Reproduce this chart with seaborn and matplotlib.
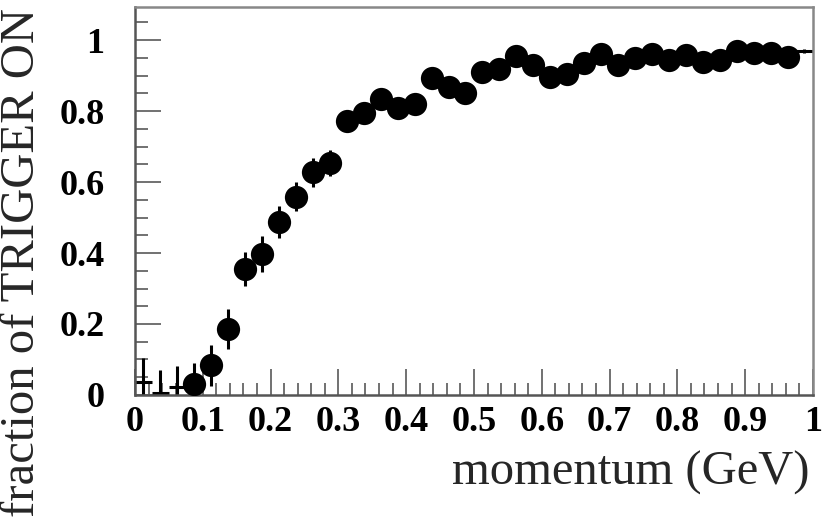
import numpy as np
import pandas as pd
import matplotlib
matplotlib.use("Agg")
import matplotlib.pyplot as plt
from matplotlib.ticker import MultipleLocator, FixedLocator
import seaborn as sns

# momentum bin centres (GeV), bin width 0.025
momentum = [0.0125, 0.0375, 0.0625, 0.0875, 0.1125, 0.1375, 0.1625, 0.1875,
            0.2125, 0.2375, 0.2625, 0.2875, 0.3125, 0.3375, 0.3625, 0.3875,
            0.4125, 0.4375, 0.4625, 0.4875, 0.5125, 0.5375, 0.5625, 0.5875,
            0.6125, 0.6375, 0.6625, 0.6875, 0.7125, 0.7375, 0.7625, 0.7875,
            0.8125, 0.8375, 0.8625, 0.8875, 0.9125, 0.9375, 0.9625, 0.9875]
half_width = 0.0125

# fraction of events with the trigger on, per bin
fraction = [0.037, 0.005, 0.022, 0.031, 0.084, 0.185, 0.355, 0.397,
            0.488, 0.559, 0.627, 0.654, 0.772, 0.795, 0.833, 0.809,
            0.819, 0.892, 0.869, 0.852, 0.911, 0.917, 0.955, 0.931,
            0.897, 0.903, 0.936, 0.961, 0.930, 0.948, 0.960, 0.945,
            0.958, 0.939, 0.944, 0.970, 0.962, 0.964, 0.953, 0.970]

# statistical uncertainty on the fraction
uncertainty = [0.066, 0.065, 0.060, 0.060, 0.058, 0.056, 0.047, 0.050,
               0.045, 0.042, 0.040, 0.036, 0.022, 0.020, 0.020, 0.020,
               0.020, 0.018, 0.018, 0.018, 0.016, 0.016, 0.015, 0.015,
               0.015, 0.015, 0.014, 0.014, 0.014, 0.013, 0.013, 0.013,
               0.013, 0.012, 0.012, 0.012, 0.012, 0.012, 0.012, 0.006]

# bins drawn with a filled marker (the others show only the error cross)
with_marker = [False, False, False] + [True] * 36 + [False]

x_ticks = [0, 0.1, 0.2, 0.3, 0.4, 0.5, 0.6, 0.7, 0.8, 0.9, 1]
x_tick_labels = ["0", "0.1", "0.2", "0.3", "0.4", "0.5", "0.6", "0.7", "0.8", "0.9", "1"]
y_ticks = [0, 0.2, 0.4, 0.6, 0.8, 1]
y_tick_labels = ["0", "0.2", "0.4", "0.6", "0.8", "1"]

df = pd.DataFrame({"momentum": momentum, "fraction": fraction,
                   "err": uncertainty, "marker": with_marker})

sns.set_theme(style="white")
plt.rcParams["font.family"] = ["Liberation Serif", "DejaVu Serif"]

fig = plt.figure(figsize=(8.22, 5.22), dpi=100)
ax = fig.add_axes([0.1642, 0.2433, 0.8248, 0.7433])

ax.errorbar(df["momentum"], df["fraction"], yerr=df["err"], xerr=half_width,
            fmt="none", ecolor="black", elinewidth=2.2, capsize=0, zorder=2)

sns.scatterplot(data=df[df["marker"]], x="momentum", y="fraction", ax=ax,
                color="black", s=280, edgecolor="black", linewidth=0,
                zorder=3, legend=False)

ax.set_xlim(0, 1.0)
ax.set_ylim(0, 1.093)

ax.xaxis.set_major_locator(FixedLocator(x_ticks))
ax.set_xticklabels(x_tick_labels)
ax.yaxis.set_major_locator(FixedLocator(y_ticks))
ax.set_yticklabels(y_tick_labels)
ax.xaxis.set_minor_locator(MultipleLocator(0.02))
ax.yaxis.set_minor_locator(MultipleLocator(0.05))

ax.tick_params(axis="both", which="both", direction="in", colors="#666666",
               labelcolor="black", width=1.3, bottom=True, left=True,
               top=False, right=False)
ax.tick_params(axis="both", which="major", length=19)
ax.tick_params(axis="both", which="minor", length=9)
ax.tick_params(axis="x", which="major", pad=8)
ax.tick_params(axis="y", which="major", pad=22)

for lab in ax.get_xticklabels() + ax.get_yticklabels():
    lab.set_fontweight("bold")
    lab.set_fontsize(26)

for side in ["left", "bottom"]:
    ax.spines[side].set_color("#555555")
    ax.spines[side].set_linewidth(1.8)
for side in ["top", "right"]:
    ax.spines[side].set_color("#888888")
    ax.spines[side].set_linewidth(1.8)

ax.set_xlabel("")
ax.set_ylabel("")
fig.text(0.985, 0.094, "momentum (GeV)", ha="right", va="center", fontsize=35)
fig.text(0.027, 0.497, "fraction of TRIGGER ON", ha="center", va="center",
         rotation=90, fontsize=35)

fig.savefig("out.png", dpi=100, facecolor="white")
